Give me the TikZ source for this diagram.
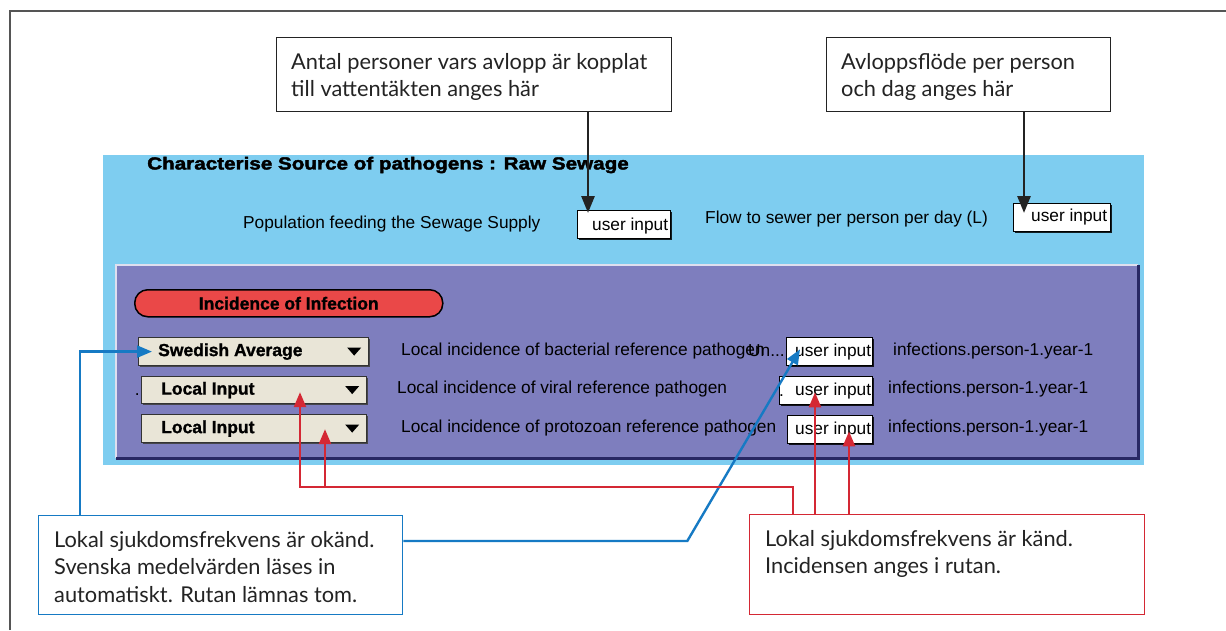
\documentclass[tikz,border=0pt]{standalone}
\usepackage{fontspec}
\setmainfont{Lato}
\newfontfamily\uifont{Liberation Sans}
\newfontfamily\uiboldfont{Liberation Sans Bold}[FakeBold=1.2]
\newfontfamily\uiheavyfont{Liberation Sans Bold}[FakeBold=2.2,FakeStretch=1.18]
\usetikzlibrary{arrows.meta,calc,shadows}

\definecolor{skypanel}{RGB}{126,205,240}
\definecolor{violetpanel}{RGB}{126,126,190}
\definecolor{navyedge}{RGB}{40,40,100}
\definecolor{pillred}{RGB}{234,72,72}
\definecolor{menubeige}{RGB}{233,229,215}
\definecolor{noteblue}{RGB}{22,122,196}
\definecolor{notered}{RGB}{212,40,52}
\definecolor{framegray}{RGB}{85,85,85}
\definecolor{ink}{RGB}{35,35,35}

\begin{document}
\begin{tikzpicture}[x=1pt,y=-1pt,
  note/.style={draw=ink, line width=1.3pt, inner sep=0pt, anchor=north west},
  notetext/.style={anchor=north west, inner sep=0pt, align=left,
    font=\fontsize{21.8}{27.5}\selectfont, text=ink},
  panel/.style={inner sep=0pt, anchor=north west},
  ui/.style={inner sep=0pt, font=\uifont\fontsize{17.3}{20}\selectfont, text=black},
  uibold/.style={inner sep=0pt, font=\uiboldfont\fontsize{17.5}{20}\selectfont, text=black},
  uibox/.style={draw=black, line width=1.3pt, fill=white, inner sep=0pt, anchor=north west,
    drop shadow={shadow xshift=1.6pt, shadow yshift=-1.6pt, fill=black, opacity=0.85}},
  menubox/.style={draw=black!80, line width=1.2pt, fill=menubeige, inner sep=0pt, anchor=north west,
    drop shadow={shadow xshift=1.4pt, shadow yshift=-1.4pt, fill=black!75, opacity=0.9}},
  blackarrow/.style={draw=ink, line width=2.8pt, -{Triangle[length=17pt,width=13pt]}},
  bluearrow/.style={draw=noteblue, line width=2.4pt, -{Triangle[length=15pt,width=12pt]}},
  redarrow/.style={draw=notered, line width=2.4pt, -{Triangle[length=15pt,width=12pt]}},
]
\fill[white] (0,0) rectangle (1226,630);
\useasboundingbox (0,0) rectangle (1226,630);

% outer frame, open to the right and below
\draw[framegray, line width=2pt] (10,630) -- (10,11) -- (1226,11);

% ---------- model panels ----------
\node[panel, fill=skypanel, minimum width=1041pt, minimum height=310pt] (sky) at (103,155) {};
\node[panel, fill=violetpanel, minimum width=1022pt, minimum height=193pt] (violet) at (116,265) {};
\draw[white!75!violetpanel, line width=1.5pt] (violet.south west) -- (violet.north west) -- (violet.north east);
\draw[navyedge, line width=2.2pt] (violet.south west) -- (violet.south east) -- (violet.north east);

\node[inner sep=0pt, anchor=west, font=\uiheavyfont\fontsize{17.5}{20}\selectfont] (title) at (147,165)
  {Characterise Source of pathogens : Raw Sewage};

\node[ui, anchor=west] (popLabel) at (243,224) {Population feeding the Sewage Supply};
\node[uibox, minimum width=93pt, minimum height=28pt] (uiPop) at (577,210) {};
\node[ui, anchor=east] (uiPopText) at ($(uiPop.east)+(-3,1)$) {user input};

\node[ui, anchor=west] (flowLabel) at (705,219) {Flow to sewer per person per day (L)};
\node[uibox, minimum width=97pt, minimum height=28pt] (uiFlow) at (1013,203) {};
\node[ui, anchor=east] (uiFlowText) at ($(uiFlow.east)+(-4,-1)$) {user input};

% header pill
\node[draw=black, line width=1.5pt, fill=pillred, rounded corners=13pt, inner sep=0pt,
  anchor=north west, minimum width=308pt, minimum height=27pt,
  font=\uiboldfont\fontsize{17.5}{20}\selectfont] (pill) at (134,289) {Incidence of Infection};

% drop-down menus
\node[menubox, minimum width=230pt, minimum height=28pt] (dd1) at (138,337) {};
\node[uibold, anchor=west] (dd1Text) at ($(dd1.west)+(20,0)$) {Swedish Average};
\node[menubox, minimum width=225pt, minimum height=27pt] (dd2) at (141,376) {};
\node[uibold, anchor=west] (dd2Text) at ($(dd2.west)+(20,0)$) {Local Input};
\node[menubox, minimum width=225pt, minimum height=28pt] (dd3) at (141,414) {};
\node[uibold, anchor=west] (dd3Text) at ($(dd3.west)+(20,0)$) {Local Input};
\foreach \m in {dd1,dd2,dd3}
  \fill[black] ($(\m.east)+(-22,-4)$) -- ++(14,0) -- ++(-7,8) -- cycle;
\node[ui, anchor=east] (dotA) at ($(dd2.west)+(-1,4)$) {.};

% row labels
\node[ui, anchor=west] (bactLabel) at (401,351) {Local incidence of bacterial reference pathogen};
\node[ui, anchor=west] (bactMore) at (748,351) {Un...};
\node[ui, anchor=west] (viralLabel) at (397,389) {Local incidence of viral reference pathogen};
\node[ui, anchor=west] (protoLabel) at (401,428) {Local incidence of protozoan reference pathogen};

% input cells
\node[uibox, minimum width=86pt, minimum height=28pt] (uiB) at (786,337) {};
\node[ui, anchor=east] (uiBText) at ($(uiB.east)+(-2,0)$) {user input};
\node[uibox, minimum width=93pt, minimum height=28pt] (uiV) at (779,376) {};
\node[ui, anchor=east] (uiVText) at ($(uiV.east)+(-2,0)$) {user input};
\node[ui, anchor=west] (dotB) at ($(uiV.west)+(0,5)$) {.};
\node[uibox, minimum width=85pt, minimum height=28pt] (uiP) at (787,415) {};
\node[ui, anchor=east] (uiPText) at ($(uiP.east)+(-2,0)$) {user input};

% units
\node[ui, anchor=west] (unitB) at (893,351) {infections.person-1.year-1};
\node[ui, anchor=west] (unitV) at (888,389) {infections.person-1.year-1};
\node[ui, anchor=west] (unitP) at (888,428) {infections.person-1.year-1};

% ---------- callout boxes ----------
\node[note, minimum width=395pt, minimum height=74pt] (noteA) at (276,37) {};
\node[notetext] (noteAText) at ($(noteA.north west)+(15,16)$)
  {Antal personer vars avlopp är kopplat\\till vattentäkten anges här};

\node[note, minimum width=284pt, minimum height=74pt] (noteB) at (826,37) {};
\node[notetext] (noteBText) at ($(noteB.north west)+(15,16)$)
  {Avloppsflöde per person\\och dag anges här};

\node[note, draw=noteblue, minimum width=364pt, minimum height=99pt] (blueNote) at (38,515) {};
\node[notetext] (blueNoteText) at ($(blueNote.north west)+(16,16)$)
  {Lokal sjukdomsfrekvens är okänd.\\Svenska medelvärden läses in\\automatiskt. Rutan lämnas tom.};

\node[note, draw=notered, minimum width=395pt, minimum height=100pt] (redNote) at (749,514) {};
\node[notetext] (redNoteText) at ($(redNote.north west)+(16,16)$)
  {Lokal sjukdomsfrekvens är känd.\\Incidensen anges i rutan.};

% ---------- connectors ----------
\coordinate (popTip) at ($(uiPop.north west)+(11,3)$);
\coordinate (flowTip) at ($(uiFlow.north west)+(11,10)$);
\draw[blackarrow] (popTip |- noteA.south) -- (popTip);
\draw[blackarrow] (flowTip |- noteB.south) -- (flowTip);

\coordinate (blueFoot) at ($(blueNote.north west)+(42,0)$);
\coordinate (sweTip) at ($(dd1.west)+(14,0)$);
\draw[bluearrow] (blueFoot) |- (sweTip);

\coordinate (blueOut) at ($(blueNote.north east)+(0,26)$);
\coordinate (blueBend) at ($(blueOut)+(284,0)$);
\coordinate (bactTip) at ($(uiB.south west)+(14,-17)$);
\draw[bluearrow] (blueOut) -- (blueBend) -- (bactTip);

\coordinate (redFoot) at ($(redNote.north west)+(44,0)$);
\coordinate (redRail) at ($(redFoot)+(0,-27)$);
\coordinate (viralTip) at ($(dd2.south west)+(159,-12)$);
\coordinate (protoTip) at ($(dd3.south west)+(184,-14)$);
\draw[redarrow] (redFoot) -- (redRail) -| (viralTip);
\draw[redarrow] (protoTip |- redRail) -- (protoTip);

\coordinate (uiVTip) at ($(uiV.south west)+(36,-13)$);
\coordinate (uiPTip) at ($(uiP.south west)+(62,-13)$);
\draw[redarrow] (uiVTip |- redNote.north) -- (uiVTip);
\draw[redarrow] (uiPTip |- redNote.north) -- (uiPTip);
\end{tikzpicture}
\end{document}
